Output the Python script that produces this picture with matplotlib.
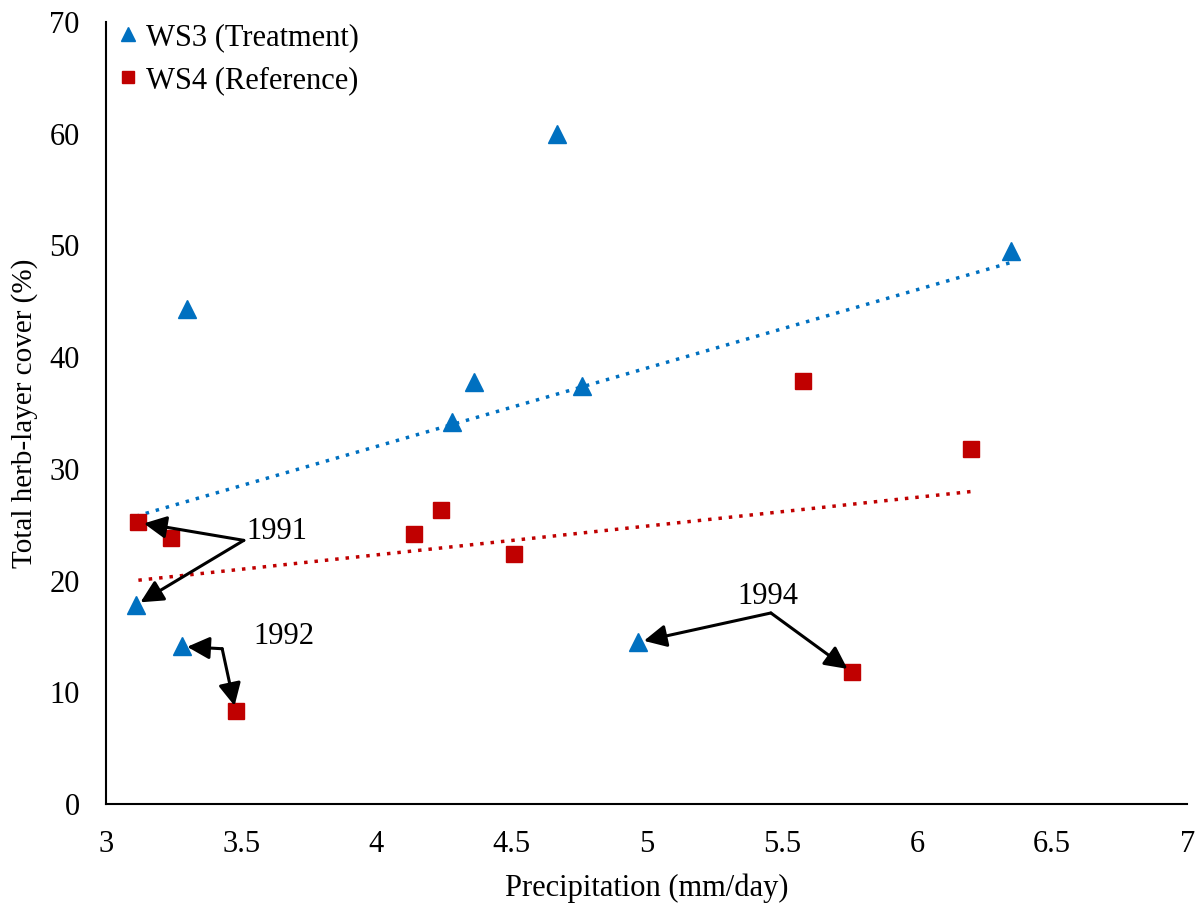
import numpy as np
import matplotlib
matplotlib.use('Agg')
import matplotlib.pyplot as plt

plt.rcParams['font.family'] = ['Liberation Serif', 'DejaVu Serif']

# herb-layer cover vs. mean daily precipitation, one point per sample year
ws3_precip = [3.11, 3.28, 3.30, 4.28, 4.36, 4.67, 4.76, 4.97, 6.35]
ws3_cover = [17.8, 14.1, 44.3, 34.2, 37.8, 60.0, 37.4, 14.5, 49.5]
ws4_precip = [3.12, 3.24, 3.48, 4.14, 4.24, 4.51, 5.58, 5.76, 6.20]
ws4_cover = [25.2, 23.8, 8.3, 24.2, 26.3, 22.4, 37.9, 11.8, 31.8]

# year callouts: label, text position, arrow origin, indexes of (ws3, ws4) points
years = ['1991', '1992', '1994']
year_text = [(3.52, 24.4), (3.545, 15.0), (5.335, 18.6)]
year_origin = [(3.51, 23.6), (3.43, 13.9), (5.46, 17.1)]
year_ws3 = [0, 1, 7]
year_ws4 = [0, 2, 7]

blue = '#0070C0'
red = '#C00000'

fig = plt.figure(figsize=(12.04, 9.09), dpi=100)
ax = fig.add_axes([0.088, 0.1155, 0.898, 0.8603])

ax.plot(ws3_precip, ws3_cover, '^', color=blue, markersize=13, label='WS3 (Treatment)', zorder=3)
ax.plot(ws4_precip, ws4_cover, 's', color=red, markersize=11, label='WS4 (Reference)', zorder=3)

# linear trendlines over the range of each series
for xs, ys, c in [(ws3_precip, ws3_cover, blue), (ws4_precip, ws4_cover, red)]:
    k, b = np.polyfit(xs, ys, 1)
    xx = np.array([min(xs), max(xs)])
    ax.plot(xx, k * xx + b, linestyle=(0, (1, 2)), color=c, linewidth=2.5, zorder=2)

arrow = dict(arrowstyle='-|>', color='black', lw=2.2, mutation_scale=34, shrinkA=0, shrinkB=4)
for lab, tpos, org, i3, i4 in zip(years, year_text, year_origin, year_ws3, year_ws4):
    ax.text(tpos[0], tpos[1], lab, fontsize=22, ha='left', va='center')
    ax.annotate('', xy=(ws3_precip[i3], ws3_cover[i3]), xytext=org, arrowprops=arrow)
    ax.annotate('', xy=(ws4_precip[i4], ws4_cover[i4]), xytext=org, arrowprops=arrow)

ax.set_xlim(3, 7)
ax.set_ylim(0, 70)
ax.set_xticks(np.arange(3, 7.01, 0.5))
ax.set_xticklabels(['3', '3.5', '4', '4.5', '5', '5.5', '6', '6.5', '7'])
ax.set_yticks(range(0, 71, 10))
ax.tick_params(length=0, labelsize=22)
ax.tick_params(axis='x', pad=19)
ax.tick_params(axis='y', pad=19)
for s in ['top', 'right']:
    ax.spines[s].set_visible(False)
for s in ['left', 'bottom']:
    ax.spines[s].set_linewidth(1.5)

ax.set_xlabel('Precipitation (mm/day)', fontsize=22, labelpad=10)
ax.set_ylabel('Total herb-layer cover (%)', fontsize=21, labelpad=8)

ax.legend(loc='upper left', bbox_to_anchor=(-0.011, 1.022), frameon=False, fontsize=22,
          handletextpad=0.1, handlelength=1.0, markerscale=0.8, labelspacing=0.45,
          borderaxespad=0.2)

fig.savefig('out.png', dpi=100)
